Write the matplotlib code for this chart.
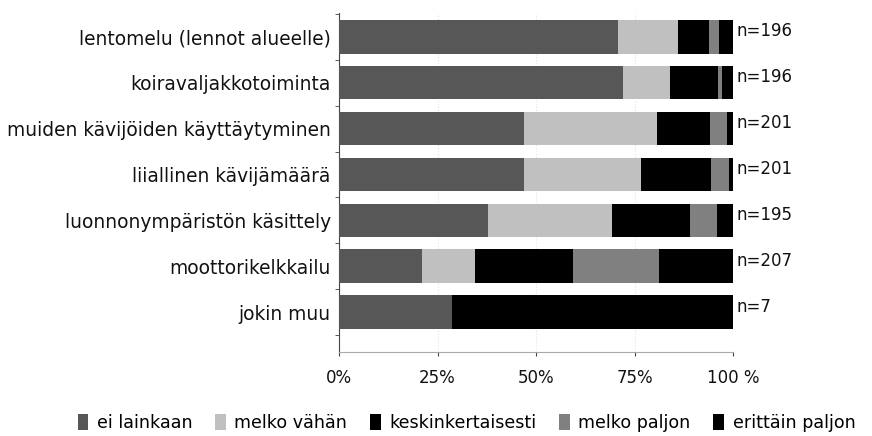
import matplotlib
matplotlib.use("Agg")
import matplotlib.pyplot as plt
import numpy as np

categories = ["lentomelu (lennot alueelle)", "koiravaljakkotoiminta",
              "muiden kävijöiden käyttäytyminen", "liiallinen kävijämäärä",
              "luonnonympäristön käsittely", "moottorikelkkailu", "jokin muu"]
n_labels = ["n=196", "n=196", "n=201", "n=201", "n=195", "n=207", "n=7"]
series_names = ["ei lainkaan", "melko vähän", "keskinkertaisesti", "melko paljon", "erittäin paljon"]
ei_lainkaan = [70.9, 72.1, 47.0, 47.0, 37.7, 21.0, 28.6]
melko_vahan = [15.2, 11.8, 33.6, 29.6, 31.7, 13.6, 0.0]
keskinkertaisesti = [7.9, 12.3, 13.5, 17.9, 19.8, 24.8, 14.3]
melko_paljon = [2.4, 1.1, 4.4, 4.5, 6.8, 21.8, 0.0]
erittain_paljon = [3.6, 2.7, 1.5, 1.0, 4.0, 18.8, 57.1]
xticks = [0, 25, 50, 75, 100]
xtick_labels = ["0%", "25%", "50%", "75%", "100 %"]

colors = ["#575757", "#c0c0c0", "#000000", "#808080", "#000000"]
series = [ei_lainkaan, melko_vahan, keskinkertaisesti, melko_paljon, erittain_paljon]

fig = plt.figure(figsize=(8.72, 4.36), dpi=100)
ax = fig.add_axes([0.3888, 0.1927, 0.4518, 0.7775])

y = np.arange(len(categories))
left = np.zeros(len(categories))
handles = []
for name, vals, c in zip(series_names, series, colors):
    h = ax.barh(y, vals, left=left, height=0.73, color=c, label=name, zorder=3)
    handles.append(h)
    left += np.array(vals)

for yi, lab in zip(y, n_labels):
    ax.text(101, yi - 0.12, lab, va="center", ha="left", fontsize=12, color="#111111")

ax.set_xlim(0, 100)
ax.set_ylim(6.87, -0.52)
ax.set_yticks(y)
ax.set_yticklabels(categories, fontsize=13.4, color="#111111")
ax.set_yticks(np.arange(-0.5, 7.0, 1.0), minor=True)
ax.tick_params(axis="y", which="major", length=0, pad=6)
ax.tick_params(axis="y", which="minor", length=3, direction="out", color="#444444")
ax.set_xticks(xticks)
ax.set_xticklabels(xtick_labels, fontsize=12, color="#111111")
ax.tick_params(axis="x", length=3, color="#444444", pad=9)
ax.grid(axis="x", color="#e4e4e4", linestyle=":", linewidth=0.8, zorder=0)
for s in ["top", "right"]:
    ax.spines[s].set_visible(False)
ax.spines["left"].set_color("#444444")
ax.spines["bottom"].set_color("#aaaaaa")

fig.legend(handles=handles, labels=series_names, loc="center", bbox_to_anchor=(0.535, 0.03),
           ncol=5, frameon=False, fontsize=12.6, handlelength=0.6, handleheight=1.0,
           handletextpad=0.5, columnspacing=1.3)

fig.savefig("out.png", dpi=100)
